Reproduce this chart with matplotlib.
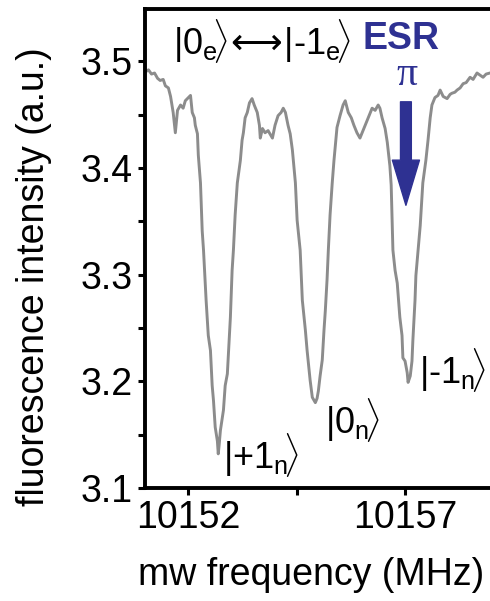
import matplotlib
matplotlib.use("Agg")
import matplotlib.pyplot as plt
from matplotlib.ticker import FixedLocator, NullFormatter

plt.rcParams['font.family'] = ['Liberation Sans', 'DejaVu Sans']
plt.rcParams['mathtext.fontset'] = 'custom'
plt.rcParams['mathtext.rm'] = 'Liberation Sans'
plt.rcParams['mathtext.it'] = 'Liberation Sans:italic'
plt.rcParams['mathtext.bf'] = 'Liberation Sans:bold'
plt.rcParams['mathtext.sf'] = 'DejaVu Sans'
plt.rcParams['mathtext.fallback'] = 'cm'

# ---- data ----
freq_mhz = [
    10151.01, 10151.08, 10151.15, 10151.22, 10151.29, 10151.35, 10151.42, 10151.47,
    10151.54, 10151.59, 10151.65, 10151.70, 10151.75, 10151.82, 10151.88, 10151.93,
    10152.00, 10152.05, 10152.09, 10152.14, 10152.16, 10152.21, 10152.23, 10152.28,
    10152.32, 10152.35, 10152.41, 10152.46, 10152.51, 10152.55, 10152.58, 10152.62,
    10152.67, 10152.69, 10152.71, 10152.74, 10152.81, 10152.85, 10152.90, 10152.97,
    10153.01, 10153.04, 10153.08, 10153.13, 10153.20, 10153.24, 10153.27, 10153.31,
    10153.36, 10153.41, 10153.47, 10153.52, 10153.59, 10153.64, 10153.66, 10153.71,
    10153.77, 10153.84, 10153.94, 10154.00, 10154.07, 10154.14, 10154.19, 10154.24,
    10154.30, 10154.35, 10154.40, 10154.47, 10154.51, 10154.58, 10154.63, 10154.70,
    10154.74, 10154.81, 10154.86, 10154.93, 10154.97, 10155.00, 10155.04, 10155.09,
    10155.13, 10155.16, 10155.20, 10155.23, 10155.27, 10155.32, 10155.36, 10155.43,
    10155.50, 10155.57, 10155.62, 10155.69, 10155.76, 10155.82, 10155.89, 10155.96,
    10156.03, 10156.08, 10156.15, 10156.24, 10156.31, 10156.38, 10156.42, 10156.47,
    10156.54, 10156.59, 10156.65, 10156.68, 10156.72, 10156.77, 10156.82, 10156.88,
    10156.93, 10156.95, 10157.00, 10157.05, 10157.07, 10157.12, 10157.16, 10157.18,
    10157.23, 10157.25, 10157.30, 10157.35, 10157.41, 10157.48, 10157.53, 10157.58,
    10157.62, 10157.69, 10157.76, 10157.81, 10157.88, 10157.97, 10158.04, 10158.08,
    10158.15, 10158.20, 10158.27, 10158.34, 10158.41, 10158.50, 10158.57, 10158.66,
    10158.73, 10158.80, 10158.87, 10158.96,
]
fluorescence = [
    3.490, 3.492, 3.488, 3.489, 3.484, 3.482, 3.483, 3.477,
    3.475, 3.467, 3.452, 3.433, 3.454, 3.459, 3.456, 3.463,
    3.466, 3.468, 3.452, 3.447, 3.440, 3.432, 3.412, 3.386,
    3.341, 3.323, 3.276, 3.243, 3.229, 3.196, 3.182, 3.157,
    3.144, 3.132, 3.140, 3.154, 3.173, 3.196, 3.207, 3.260,
    3.304, 3.323, 3.356, 3.386, 3.407, 3.426, 3.433, 3.447,
    3.452, 3.461, 3.465, 3.459, 3.452, 3.440, 3.428, 3.437,
    3.433, 3.435, 3.428, 3.440, 3.449, 3.452, 3.456, 3.452,
    3.440, 3.432, 3.417, 3.386, 3.351, 3.323, 3.276, 3.248,
    3.229, 3.201, 3.185, 3.180, 3.184, 3.191, 3.205, 3.220,
    3.248, 3.266, 3.295, 3.323, 3.356, 3.386, 3.407, 3.438,
    3.449, 3.459, 3.463, 3.452, 3.447, 3.440, 3.433, 3.428,
    3.435, 3.440, 3.447, 3.456, 3.454, 3.459, 3.456, 3.447,
    3.437, 3.424, 3.402, 3.384, 3.323, 3.304, 3.292, 3.260,
    3.243, 3.222, 3.219, 3.208, 3.199, 3.205, 3.219, 3.238,
    3.276, 3.299, 3.323, 3.346, 3.386, 3.407, 3.426, 3.447,
    3.459, 3.466, 3.468, 3.473, 3.467, 3.465, 3.469, 3.470,
    3.471, 3.473, 3.475, 3.479, 3.480, 3.485, 3.483, 3.489,
    3.487, 3.485, 3.488, 3.489,
]

x_major_ticks = [10152, 10157]
x_minor_ticks = [10154.5]
y_major_ticks = [3.1, 3.2, 3.3, 3.4, 3.5]
y_minor_ticks = [3.15, 3.25, 3.35, 3.45]

transition_label = (r'|0$_\mathrm{e}\!\rangle\!\mathsf{\longleftrightarrow}\!$'
                    r'|-1$_\mathrm{e}\!\rangle$')
nuclear_labels = [r'|+1$_\mathrm{n}\!\rangle$',
                  r'|0$_\mathrm{n}\!\rangle$',
                  r'|-1$_\mathrm{n}\!\rangle$']
nuclear_label_pos = [(10152.81, 3.131), (10155.16, 3.164), (10157.33, 3.211)]

BLUE = '#2e3192'
GRAY = '#8c8c8c'

fig = plt.figure(figsize=(4.90, 6.01), dpi=100)
ax = fig.add_axes([145/490, 1 - 488/601, 1 - 145/490, (488 - 9)/601])

ax.plot(freq_mhz, fluorescence, color=GRAY, lw=2.1, solid_joinstyle='round')

ax.set_xlim(10151.0, 10158.96)
ax.set_ylim(3.1, 3.549)

ax.xaxis.set_major_locator(FixedLocator(x_major_ticks))
ax.xaxis.set_minor_locator(FixedLocator(x_minor_ticks))
ax.yaxis.set_major_locator(FixedLocator(y_major_ticks))
ax.yaxis.set_minor_locator(FixedLocator(y_minor_ticks))
ax.xaxis.set_minor_formatter(NullFormatter())
ax.yaxis.set_minor_formatter(NullFormatter())
ax.set_xticklabels([str(v) for v in x_major_ticks])
ax.set_yticklabels([f'{v:.1f}' for v in y_major_ticks])

ax.tick_params(which='both', direction='out', length=5, width=2.2, labelsize=27,
               color='black', pad=4)
for side in ['left', 'bottom', 'top']:
    ax.spines[side].set_linewidth(2.8)
ax.spines['right'].set_visible(False)

fig.text(311/490, 1 - 575/601, 'mw frequency (MHz)', fontsize=27,
         ha='center', va='center')
fig.text(34/490, 1 - 277/601, 'fluorescence intensity (a.u.)', fontsize=27,
         ha='center', va='center', rotation=90)

ax.text(10151.65, 3.519, transition_label, fontsize=26, ha='left', va='center')
ax.text(10156.01, 3.521, 'ESR', fontsize=27, fontweight='bold', color=BLUE,
        ha='left', va='center')
ax.text(10157.05, 3.487, 'π', fontsize=30, color=BLUE, ha='center', va='center',
        family=['Liberation Serif'])
ax.annotate('', xy=(10157.02, 3.365), xytext=(10157.02, 3.462),
            arrowprops=dict(arrowstyle='simple,head_length=2.5,head_width=1.5,tail_width=0.6',
                            mutation_scale=13, color=BLUE, shrinkA=0, shrinkB=0))

for lab, (xx, yy) in zip(nuclear_labels, nuclear_label_pos):
    ax.text(xx, yy, lab, fontsize=26, ha='left', va='center')

fig.savefig('out.png', dpi=100)
